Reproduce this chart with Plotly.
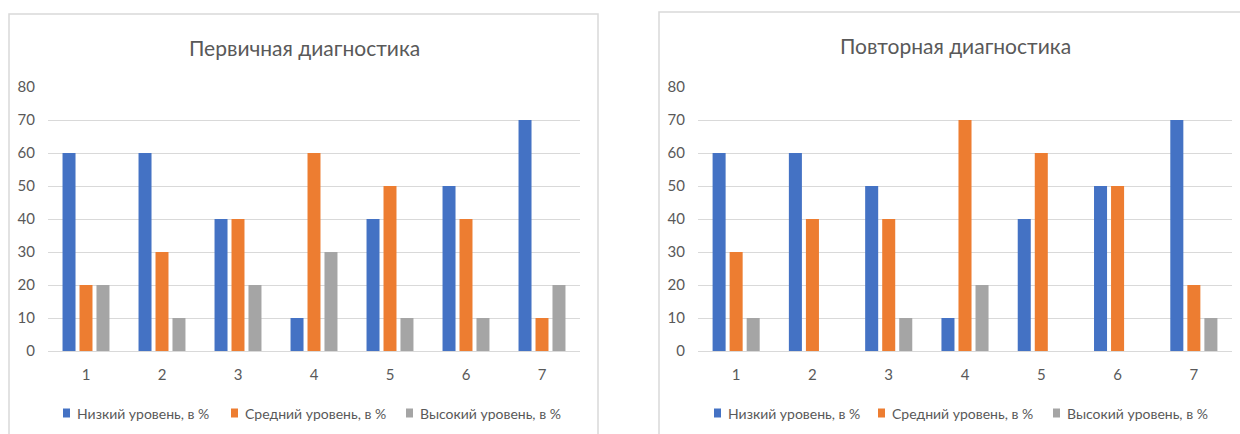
import plotly.graph_objects as go

W, H = 1240, 434

categories = ["1", "2", "3", "4", "5", "6", "7"]
series_names = ["Низкий уровень, в %", "Средний уровень, в %", "Высокий уровень, в %"]

first_low = [60, 60, 40, 10, 40, 50, 70]
first_mid = [20, 30, 40, 60, 50, 40, 10]
first_high = [20, 10, 20, 30, 10, 10, 20]

second_low = [60, 60, 50, 10, 40, 50, 70]
second_mid = [30, 40, 40, 70, 60, 50, 20]
second_high = [10, 0, 10, 20, 0, 0, 10]

titles = ["Первичная диагностика", "Повторная диагностика"]
y_ticks = [0, 10, 20, 30, 40, 50, 60, 70, 80]

colors = ["#4472C4", "#ED7D31", "#A5A5A5"]
TEXT = "#595959"
GRID = "#D9D9D9"
FONT = "Lato, sans-serif"


def px_x(p):
    return p / W


def px_y(p):
    return 1 - p / H


fig = go.Figure()

panels = [
    ("x", "y", [first_low, first_mid, first_high]),
    ("x2", "y2", [second_low, second_mid, second_high]),
]
for xa, ya, values in panels:
    for name, vals, col in zip(series_names, values, colors):
        fig.add_trace(go.Bar(
            x=categories, y=vals, name=name, marker_color=col,
            marker_line_width=0, xaxis=xa, yaxis=ya,
            showlegend=False, hoverinfo="skip",
        ))

axis_common = dict(
    tickfont=dict(family=FONT, size=15, color=TEXT),
    fixedrange=True,
)
yaxis_common = dict(
    range=[0, 80], tickvals=y_ticks, showgrid=True, gridcolor=GRID,
    gridwidth=1, zeroline=False, showline=False, ticks="",
    ticklabelstandoff=12, **axis_common,
)
xaxis_common = dict(
    type="category", showgrid=False, zeroline=False, showline=True,
    linecolor=GRID, linewidth=1, ticks="", ticklabelstandoff=10,
    **axis_common,
)

ydom = [px_y(351), px_y(87)]

# chart frames
shapes = [
    dict(type="rect", xref="paper", yref="paper",
         x0=px_x(9), x1=px_x(598), y0=px_y(445), y1=px_y(14),
         line=dict(color=GRID, width=1.5), fillcolor="rgba(0,0,0,0)", layer="below"),
    dict(type="rect", xref="paper", yref="paper",
         x0=px_x(659), x1=px_x(1255), y0=px_y(445), y1=px_y(12),
         line=dict(color=GRID, width=1.5), fillcolor="rgba(0,0,0,0)", layer="below"),
]

annotations = [
    dict(text=titles[0], x=px_x(304), y=px_y(47), xref="paper", yref="paper",
         showarrow=False, xanchor="center", yanchor="middle",
         font=dict(family=FONT, size=21, color=TEXT)),
    dict(text=titles[1], x=px_x(955), y=px_y(46), xref="paper", yref="paper",
         showarrow=False, xanchor="center", yanchor="middle",
         font=dict(family=FONT, size=21, color=TEXT)),
]

# legend rows: colour key squares followed by series names
legend_rows = [
    [63, 231, 406],
    [714, 878, 1053],
]
LEG_Y = 413
for row in legend_rows:
    for sx, name, col in zip(row, series_names, colors):
        shapes.append(dict(
            type="rect", xref="paper", yref="paper",
            x0=px_x(sx), x1=px_x(sx + 7),
            y0=px_y(LEG_Y + 4.5), y1=px_y(LEG_Y - 4.5),
            line=dict(width=0), fillcolor=col,
        ))
        annotations.append(dict(
            text=name, x=px_x(sx + 12), y=px_y(LEG_Y), xref="paper", yref="paper",
            showarrow=False, xanchor="left", yanchor="middle",
            font=dict(family=FONT, size=14, color=TEXT),
        ))

fig.update_layout(
    width=W, height=H,
    margin=dict(l=0, r=0, t=0, b=0, autoexpand=False),
    paper_bgcolor="white", plot_bgcolor="white",
    barmode="group", bargap=0.33, bargroupgap=0.235,
    showlegend=False,
    xaxis=dict(domain=[px_x(48), px_x(580)], anchor="y", **xaxis_common),
    yaxis=dict(domain=ydom, anchor="x", **yaxis_common),
    xaxis2=dict(domain=[px_x(698), px_x(1232)], anchor="y2", **xaxis_common),
    yaxis2=dict(domain=ydom, anchor="x2", **yaxis_common),
    shapes=shapes,
    annotations=annotations,
)

fig.write_html("out.html")
